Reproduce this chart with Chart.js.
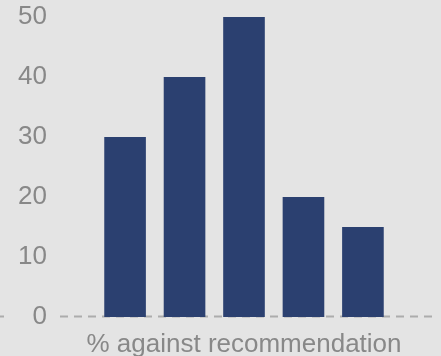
<!DOCTYPE html>
<html>
<head>
<meta charset="utf-8">
<script src="https://cdn.jsdelivr.net/npm/chart.js@4"></script>
<style>
  html, body { margin: 0; padding: 0; background: #e4e4e4; overflow: hidden; }
</style>
</head>
<body>
<canvas id="c" width="441" height="356"></canvas>
<script>
// Category shown under the bars
const categories = ['% against recommendation'];
// One bar per group member, all within the single category
const seriesValues = [30, 40, 50, 20, 15];
// Y axis tick range
const yTicks = [0, 10, 20, 30, 40, 50];

const barColor = '#2b4070';
const textColor = '#888888';
const fontFamily = '"Liberation Sans", Arial, sans-serif';

// Dashed baseline at zero, drawn through the y scale
const zeroLine = {
  id: 'zeroLine',
  beforeDatasetsDraw(chart) {
    const { ctx, chartArea, scales } = chart;
    const y = Math.round(scales.y.getPixelForValue(0)) - 0.5;
    ctx.save();
    ctx.strokeStyle = '#acacac';
    ctx.lineWidth = 2;
    ctx.setLineDash([8, 6]);
    ctx.beginPath();
    ctx.moveTo(chartArea.left + 3, y);
    ctx.lineTo(chartArea.right + 1, y);
    ctx.moveTo(0, y);
    ctx.lineTo(4, y);
    ctx.stroke();
    ctx.restore();
  }
};

new Chart(document.getElementById('c'), {
  type: 'bar',
  data: {
    labels: categories,
    datasets: seriesValues.map((v) => ({
      data: [v],
      backgroundColor: barColor,
      borderWidth: 0,
      categoryPercentage: 0.795,
      barPercentage: 0.7
    }))
  },
  options: {
    responsive: false,
    animation: false,
    layout: { padding: { top: 17, left: 0, right: 10, bottom: 0 } },
    plugins: { legend: { display: false }, tooltip: { enabled: false } },
    scales: {
      x: {
        grid: { display: false, drawTicks: false },
        border: { display: false },
        ticks: { color: textColor, font: { family: fontFamily, size: 26 }, padding: 12 },
        afterFit(scale) {
          scale.height = 39;
          scale.paddingLeft = 0;
          scale.paddingRight = 0;
        }
      },
      y: {
        min: yTicks[0],
        max: yTicks[yTicks.length - 1],
        grid: { display: false, drawTicks: false },
        border: { display: false },
        afterBuildTicks(scale) { scale.ticks = yTicks.map((v) => ({ value: v })); },
        ticks: { color: textColor, font: { family: fontFamily, size: 26 }, padding: 10 },
        afterFit(scale) {
          scale.width = 57;
          scale.paddingTop = 0;
          scale.paddingBottom = 0;
        }
      }
    }
  },
  plugins: [zeroLine]
});
</script>
</body>
</html>
